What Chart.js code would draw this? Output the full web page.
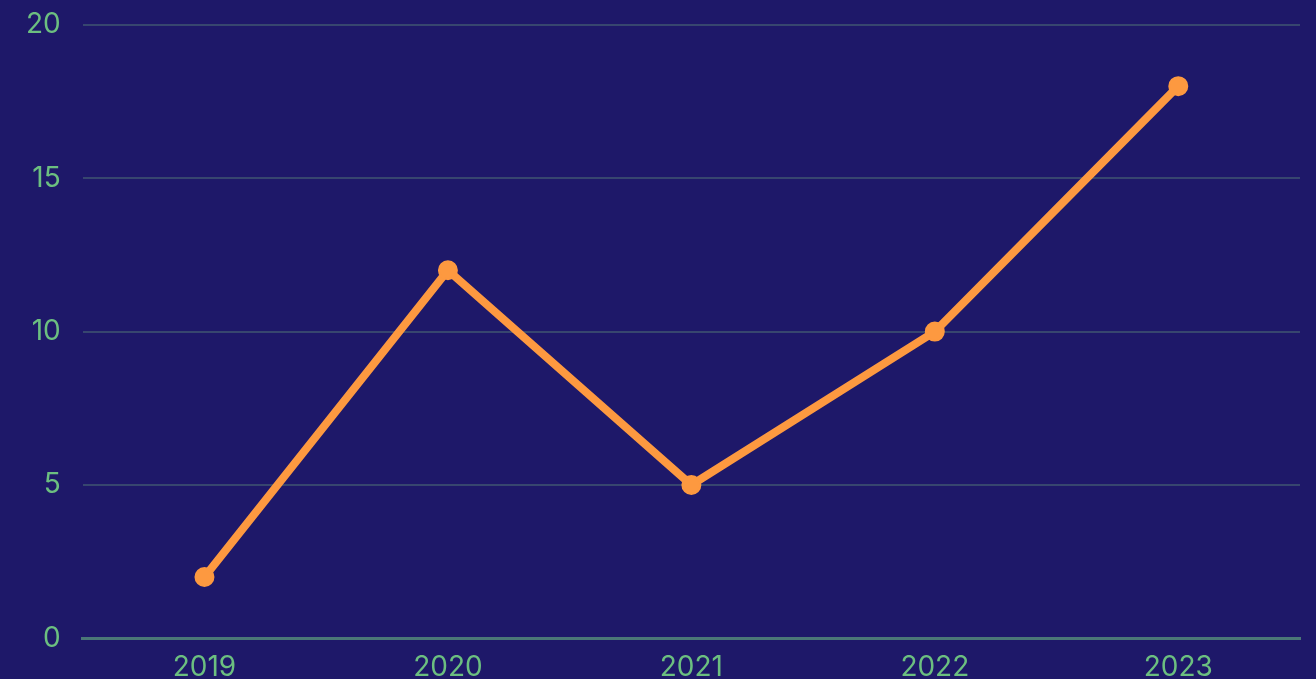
<!DOCTYPE html>
<html>
<head>
<meta charset="utf-8">
<script src="https://cdn.jsdelivr.net/npm/chart.js@4"></script>
<style>
  html, body { margin: 0; padding: 0; background: #1e1869; overflow: hidden; }
  .wrap { width: 1316px; height: 710px; margin-top: -14px; position: relative; }
</style>
</head>
<body>
<div class="wrap"><canvas id="lineChart"></canvas></div>
<script>
// Chart data
const years = ['2019', '2020', '2021', '2022', '2023'];
const values = [2, 12, 5, 10, 18];
const yTicks = [0, 5, 10, 15, 20];

const tickColor = '#6cbf80';
const lineColor = '#fd9940';

function buildChart() {
    const ctx = document.getElementById('lineChart').getContext('2d');
    new Chart(ctx, {
        type: 'line',
        data: {
            labels: years,
            datasets: [{
                label: 'Value',
                data: values,
                borderColor: lineColor,
                backgroundColor: lineColor,
                borderWidth: 8,
                pointRadius: 9,
                pointHoverRadius: 9,
                pointBackgroundColor: lineColor,
                pointBorderColor: lineColor,
                pointBorderWidth: 2,
                tension: 0,
                fill: false
            }]
        },
        options: {
            responsive: true,
            maintainAspectRatio: false,
            animation: false,
            layout: { padding: { top: 0, right: 16, left: 4, bottom: 0 } },
            plugins: {
                legend: { display: false },
                tooltip: { enabled: false }
            },
            scales: {
                x: {
                    offset: true,
                    grid: { display: false, drawTicks: false },
                    border: { display: true, color: '#4b7777', width: 3 },
                    ticks: {
                        color: tickColor,
                        padding: 12,
                        font: { family: 'Inter', size: 28 }
                    }
                },
                y: {
                    min: 0,
                    max: 20,
                    afterBuildTicks: (axis) => {
                        axis.ticks = yTicks.map(v => ({ value: v }));
                    },
                    grid: { color: '#37466f', lineWidth: 2, drawTicks: false },
                    border: { display: false },
                    ticks: {
                        color: tickColor,
                        padding: 22,
                        font: { family: 'Inter', size: 28 }
                    }
                }
            }
        }
    });
}

document.addEventListener('DOMContentLoaded', buildChart);
</script>
</body>
</html>
